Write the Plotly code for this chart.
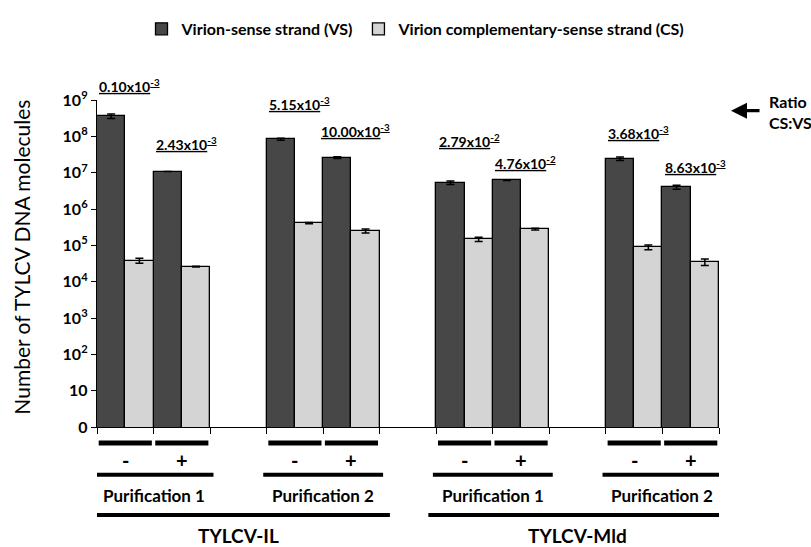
import plotly.graph_objects as go

# ---------------- data ----------------
isolates = ["TYLCV-IL", "TYLCV-Mld"]
purifications = ["Purification 1", "Purification 2"]
treatments = ["-", "+"]

# order: IL-P1(-,+), IL-P2(-,+), Mld-P1(-,+), Mld-P2(-,+)
vs_values = [3.6e8, 1.07e7, 8.3e7, 2.6e7, 5.3e6, 6.1e6, 2.44e7, 4.0e6]
vs_errors = [5e7, 0, 5e6, 1.5e6, 6e5, 0, 2.7e6, 5e5]
cs_values = [3.8e4, 2.6e4, 4.1e5, 2.5e5, 1.47e5, 2.8e5, 8.9e4, 3.5e4]
cs_errors = [6e3, 500, 1.5e4, 3e4, 2e4, 1.5e4, 1.3e4, 7e3]

ratio_mantissa = ["0.10", "2.43", "5.15", "10.00", "2.79", "4.76", "3.68", "8.63"]
ratio_exponent = ["-3", "-3", "-3", "-3", "-2", "-2", "-3", "-3"]

y_tick_values = [1, 10, 1e2, 1e3, 1e4, 1e5, 1e6, 1e7, 1e8, 1e9]
y_tick_labels = ["0", "10", "10<sup>2</sup>", "10<sup>3</sup>", "10<sup>4</sup>",
                 "10<sup>5</sup>", "10<sup>6</sup>", "10<sup>7</sup>", "10<sup>8</sup>",
                 "10<sup>9</sup>"]

series_names = ["Virion-sense strand (VS)", "Virion complementary-sense strand (CS)"]

# ---------------- layout helpers ----------------
W, H = 811, 547
PL, PR, PT, PB = 97, 719, 91, 427
FONT = "Lato"


def py(p):
    return (PB - p) / (PB - PT)


def pxp(p):
    return (p - PL) / (PR - PL)


# slot position of each bar pair (one empty slot between purification groups)
slots = []
for i in range(len(isolates)):
    for p in range(len(purifications)):
        for t in range(len(treatments)):
            slots.append(6 * i + 3 * p + t)

# ratio label vertical positions (pixels), layout only
ratio_label_py = [76, 136, 95, 122, 133, 155, 124, 159]

DARK = "#474747"
LIGHT = "#d4d4d4"

fig = go.Figure()
fig.add_trace(go.Bar(
    x=slots, y=vs_values, name="<b>%s</b>" % series_names[0],
    marker=dict(color=DARK, line=dict(color="black", width=1.3)),
    error_y=dict(type="data", array=vs_errors, color="black", thickness=1.5, width=4),
))
fig.add_trace(go.Bar(
    x=slots, y=cs_values, name="<b>%s</b>" % series_names[1],
    marker=dict(color=LIGHT, line=dict(color="black", width=1.3)),
    error_y=dict(type="data", array=cs_errors, color="black", thickness=1.5, width=4),
))

annotations = []
shapes = []

# ratio labels
for k, s in enumerate(slots):
    annotations.append(dict(
        x=s + 0.08, xref="x", y=py(ratio_label_py[k]), yref="paper",
        text="<b><u>%sx10<sup>%s</sup></u></b>" % (ratio_mantissa[k], ratio_exponent[k]),
        showarrow=False, xanchor="center", yanchor="middle",
        font=dict(family=FONT, size=14, color="black"),
    ))

# Ratio CS:VS with arrow
annotations.append(dict(
    x=pxp(731), xref="paper", y=py(102), yref="paper",
    ax=30, ay=0, axref="pixel", ayref="pixel",
    text="", showarrow=True, arrowhead=2, arrowsize=1, arrowwidth=3.2, arrowcolor="black",
))
annotations.append(dict(
    x=pxp(767), xref="paper", y=py(103), yref="paper",
    text="<b>Ratio<br>CS:VS</b>", showarrow=False, xanchor="left", yanchor="middle",
    align="left", font=dict(family=FONT, size=16, color="black"),
))

# treatment segments and signs
for k, s in enumerate(slots):
    shapes.append(dict(type="line", xref="x", yref="paper",
                       x0=s - 0.47, x1=s + 0.47, y0=py(443.5), y1=py(443.5),
                       line=dict(color="black", width=5)))
    annotations.append(dict(
        x=s, xref="x", y=py(461), yref="paper",
        text="<b>%s</b>" % treatments[k % 2], showarrow=False,
        xanchor="center", yanchor="middle",
        font=dict(family=FONT, size=20, color="black"),
    ))

# purification lines and labels
for g in range(len(isolates) * len(purifications)):
    first, last = slots[2 * g], slots[2 * g + 1]
    shapes.append(dict(type="line", xref="x", yref="paper",
                       x0=first - 0.56, x1=last + 0.56, y0=py(476), y1=py(476),
                       line=dict(color="black", width=4)))
    annotations.append(dict(
        x=(first + last) / 2, xref="x", y=py(497.5), yref="paper",
        text="<b>%s</b>" % purifications[g % 2], showarrow=False,
        xanchor="center", yanchor="middle",
        font=dict(family=FONT, size=17, color="black"),
    ))

# isolate lines and labels
for i, iso in enumerate(isolates):
    first, last = slots[4 * i], slots[4 * i + 3]
    shapes.append(dict(type="line", xref="x", yref="paper",
                       x0=first - 0.64, x1=last + 0.68, y0=py(517.5), y1=py(517.5),
                       line=dict(color="black", width=4)))
    annotations.append(dict(
        x=(first + last) / 2, xref="x", y=py(538), yref="paper",
        text="<b>%s</b>" % iso, showarrow=False,
        xanchor="center", yanchor="middle",
        font=dict(family=FONT, size=19, color="black"),
    ))

# y axis title
annotations.append(dict(
    x=pxp(22), xref="paper", y=py(253), yref="paper",
    text="Number of TYLCV DNA molecules", textangle=-90, showarrow=False,
    xanchor="center", yanchor="middle",
    font=dict(family=FONT, size=21, color="black"),
))

fig.update_layout(
    width=W, height=H,
    margin=dict(l=PL, r=W - PR, t=PT, b=H - PB, pad=0),
    paper_bgcolor="white", plot_bgcolor="white",
    barmode="group", bargap=0, bargroupgap=0,
    showlegend=True,
    legend=dict(orientation="h", x=pxp(416), xanchor="center", y=py(18), yanchor="middle",
                font=dict(family=FONT, size=16, color="black"),
                itemwidth=30, traceorder="normal"),
    annotations=annotations,
    shapes=shapes,
    font=dict(family=FONT, color="black"),
)

fig.update_xaxes(
    range=[-0.5, max(slots) + 0.5],
    tickmode="array", tickvals=[v - 0.5 for v in range(max(slots) + 2)],
    showticklabels=False, ticks="outside", ticklen=6, tickwidth=1.2, tickcolor="black",
    showline=True, linecolor="black", linewidth=1.3, showgrid=False, zeroline=False,
)
fig.update_yaxes(
    type="log", range=[0, 9],
    tickmode="array", tickvals=y_tick_values,
    ticktext=["<b>%s</b>" % t for t in y_tick_labels],
    tickfont=dict(family=FONT, size=16, color="black"),
    ticks="outside", ticklen=5, tickwidth=1.2, tickcolor="black",
    showline=True, linecolor="black", linewidth=1.3, showgrid=False, zeroline=False,
)

fig.write_html("out.html", config={"displayModeBar": False},
               post_script="document.body.style.margin='0';document.body.style.overflow='hidden';")
